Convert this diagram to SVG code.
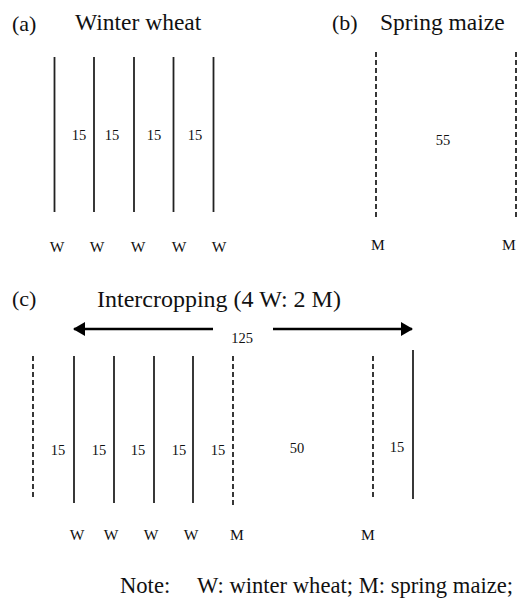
<svg xmlns="http://www.w3.org/2000/svg" width="520" height="602" viewBox="0 0 520 602">
<style>
.t{font-family:"Liberation Serif","Times New Roman",serif;fill:#111}
.title{font-size:23.5px}
.lab{font-size:22px}
.note{font-size:22.6px}
.num{font-size:14.5px;text-anchor:middle}
.row{font-size:15.5px;text-anchor:middle}
.w{stroke:#222;stroke-width:1.8;fill:none}
.m{stroke:#222;stroke-width:1.8;fill:none;stroke-dasharray:5 3}
.arr{stroke:#000;stroke-width:2.5;fill:none}
</style>
<defs>
<marker id="ah" viewBox="0 0 12 14" refX="11" refY="7" markerWidth="12" markerHeight="14" markerUnits="userSpaceOnUse" orient="auto">
<path d="M0,0 L12,7 L0,14 Z" fill="#000"/>
</marker>
</defs>
<rect width="520" height="602" fill="#fff"/>

<g id="panel-a">
<text class="t lab" x="12" y="31">(a)</text>
<text class="t title" x="75" y="30">Winter wheat</text>
<line class="w" x1="54.5" y1="57" x2="54.5" y2="212"/>
<line class="w" x1="94" y1="57" x2="94" y2="212"/>
<line class="w" x1="134" y1="57" x2="134" y2="212"/>
<line class="w" x1="173.5" y1="57" x2="173.5" y2="212"/>
<line class="w" x1="213.5" y1="57" x2="213.5" y2="212"/>
<text class="t num" x="79" y="140">15</text>
<text class="t num" x="112" y="140">15</text>
<text class="t num" x="154" y="140">15</text>
<text class="t num" x="195" y="140">15</text>
<text class="t row" x="57" y="252">W</text>
<text class="t row" x="97" y="252">W</text>
<text class="t row" x="138" y="252">W</text>
<text class="t row" x="179" y="252">W</text>
<text class="t row" x="219" y="252">W</text>
</g>

<g id="panel-b">
<text class="t lab" x="332" y="30">(b)</text>
<text class="t title" x="380" y="30">Spring maize</text>
<line class="m" x1="376" y1="52" x2="376" y2="218"/>
<line class="m" x1="516" y1="52" x2="516" y2="218"/>
<text class="t num" x="443" y="145">55</text>
<text class="t row" x="378" y="250">M</text>
<text class="t row" x="509" y="250">M</text>
</g>

<g id="panel-c">
<text class="t lab" x="12" y="306">(c)</text>
<text class="t title" x="97" y="307" style="font-size:24px">Intercropping (4 W: 2 M)</text>
<line class="m" x1="33" y1="356" x2="33" y2="500"/>
<line class="w" x1="74" y1="356" x2="74" y2="503"/>
<line class="w" x1="114" y1="356" x2="114" y2="503"/>
<line class="w" x1="154" y1="356" x2="154" y2="503"/>
<line class="w" x1="193" y1="356" x2="193" y2="503"/>
<line class="m" x1="233" y1="356" x2="233" y2="505"/>
<line class="m" x1="373" y1="356" x2="373" y2="500"/>
<line class="w" x1="413" y1="350" x2="413" y2="499"/>
<text class="t num" x="58" y="455">15</text>
<text class="t num" x="99" y="455">15</text>
<text class="t num" x="138" y="455">15</text>
<text class="t num" x="179" y="455">15</text>
<text class="t num" x="218" y="455">15</text>
<text class="t num" x="297" y="453">50</text>
<text class="t num" x="397" y="452">15</text>
<text class="t num" x="242" y="343">125</text>
<text class="t row" x="77" y="540">W</text>
<text class="t row" x="111" y="540">W</text>
<text class="t row" x="151" y="540">W</text>
<text class="t row" x="191" y="540">W</text>
<text class="t row" x="237" y="540">M</text>
<text class="t row" x="368" y="540">M</text>
</g>

<g id="connectors">
<line class="arr" x1="213" y1="329" x2="74" y2="329" marker-end="url(#ah)"/>
<line class="arr" x1="273" y1="329" x2="412" y2="329" marker-end="url(#ah)"/>
</g>

<g id="note">
<text class="t note" x="120" y="593">Note:</text>
<text class="t note" x="197" y="593">W: winter wheat; M: spring maize;</text>
</g>
</svg>
